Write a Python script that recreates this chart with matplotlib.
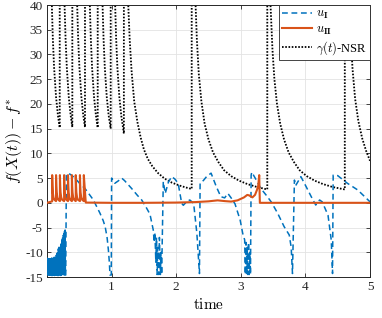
import matplotlib
matplotlib.use("Agg")
import matplotlib.pyplot as plt
import numpy as np

plt.rcParams['font.family'] = ['Liberation Serif', 'DejaVu Serif']
plt.rcParams['mathtext.fontset'] = 'cm'
plt.rcParams['axes.unicode_minus'] = False

# ---- data ----
xticks = [1, 2, 3, 4, 5]
yticks = [-15, -10, -5, 0, 5, 10, 15, 20, 25, 30, 35, 40]

# gamma(t)-NSR (black dotted), jumps repeat the time value
gamma_t = [0.00, 0.075, 0.09, 0.11, 0.14, 0.17, 0.197,
           0.197, 0.272, 0.287, 0.307, 0.337, 0.367, 0.392,
           0.392, 0.467, 0.482, 0.502, 0.532, 0.562, 0.588,
           0.588, 0.663, 0.678, 0.698, 0.728, 0.758, 0.785,
           0.785, 0.860, 0.875, 0.895, 0.925, 0.955, 0.986,
           0.986, 1.055, 1.07, 1.09, 1.12, 1.15, 1.19,
           1.19, 1.258, 1.28, 1.31, 1.35, 1.40, 1.45, 1.50, 1.56, 1.63, 1.72, 1.82, 1.93, 2.05, 2.15, 2.24,
           2.24, 2.30, 2.32, 2.35, 2.39, 2.44, 2.50, 2.57, 2.65, 2.74, 2.85, 2.97, 3.10, 3.25, 3.41,
           3.41, 3.46, 3.49, 3.52, 3.56, 3.61, 3.67, 3.74, 3.82, 3.91, 4.02, 4.14, 4.27, 4.42, 4.61,
           4.61, 4.68, 4.70, 4.73, 4.77, 4.82, 4.88, 4.94, 5.00]
gamma_v = [80, 40, 33.3, 27.3, 21.4, 17.6, 15.2,
           80, 40, 33.3, 27.3, 21.4, 17.6, 15.3,
           80, 40, 33.3, 27.3, 21.4, 17.6, 15.3,
           80, 40, 33.3, 27.3, 21.4, 17.6, 15.2,
           80, 40, 33.3, 27.3, 21.4, 17.6, 15.0,
           80, 40, 33.3, 27.3, 21.4, 17.6, 14.0,
           80, 40, 33.0, 26.5, 20.5, 16.3, 13.2, 10.8, 8.9, 7.4, 6.0, 4.9, 4.1, 3.5, 3.1, 2.8,
           80, 40, 33.0, 26.0, 20.5, 16.0, 12.8, 10.2, 8.3, 6.6, 5.4, 4.5, 3.8, 3.2, 2.7,
           80, 40, 31.0, 25.0, 20.0, 16.0, 12.8, 10.2, 8.3, 6.6, 5.4, 4.5, 3.8, 3.2, 2.7,
           80, 40, 34.0, 27.0, 21.0, 16.5, 13.0, 10.5, 8.5]

# u_II (orange)
u2_t = [0.00, 0.04, 0.08,
        0.08, 0.085, 0.09, 0.10, 0.115, 0.14,
        0.14, 0.145, 0.15, 0.16, 0.175, 0.20,
        0.20, 0.205, 0.21, 0.22, 0.235, 0.265,
        0.265, 0.27, 0.275, 0.285, 0.30, 0.325,
        0.325, 0.33, 0.335, 0.345, 0.36, 0.385,
        0.385, 0.39, 0.395, 0.405, 0.42, 0.445,
        0.445, 0.45, 0.455, 0.465, 0.48, 0.51,
        0.51, 0.515, 0.52, 0.53, 0.545, 0.57,
        0.57, 0.60, 1.00, 1.50, 2.00, 2.30, 2.50, 2.64, 2.75, 2.85, 2.95, 3.05, 3.10,
        3.13, 3.18, 3.22, 3.25, 3.27, 3.285, 3.295, 3.40, 4.00, 5.00]
u2_v = [0.0, 0.15, 0.3,
        5.6, 3.4, 2.1, 1.1, 0.6, 0.35,
        5.6, 3.4, 2.1, 1.1, 0.6, 0.35,
        5.6, 3.4, 2.1, 1.1, 0.6, 0.35,
        5.6, 3.4, 2.1, 1.1, 0.6, 0.35,
        5.6, 3.4, 2.1, 1.1, 0.6, 0.35,
        5.6, 3.4, 2.1, 1.1, 0.6, 0.35,
        5.6, 3.4, 2.1, 1.1, 0.6, 0.35,
        5.6, 3.4, 2.1, 1.1, 0.6, 0.35,
        5.6, 0.05, 0.0, 0.0, 0.05, 0.15, 0.3, 0.5, 0.35, 0.25, 0.5, 1.1, 1.6,
        1.5, 1.1, 1.6, 2.6, 3.5, 5.6, 0.0, 0.0, 0.0, 0.0]

# u_I (blue dashed)
u1_t = [0.000, 0.004, 0.008, 0.012, 0.016, 0.020, 0.024, 0.028, 0.032, 0.036,
        0.040, 0.044, 0.048, 0.052, 0.056, 0.060, 0.064, 0.068, 0.072, 0.076,
        0.080, 0.084, 0.088, 0.092, 0.096, 0.100, 0.104, 0.108, 0.112, 0.116,
        0.120, 0.124, 0.128, 0.132, 0.136, 0.140, 0.144, 0.148, 0.152, 0.156,
        0.160, 0.164, 0.168, 0.172, 0.176, 0.180, 0.184, 0.188, 0.192, 0.196,
        0.200, 0.204, 0.208, 0.212, 0.216, 0.220, 0.224, 0.228, 0.232, 0.236,
        0.240, 0.245, 0.250, 0.255, 0.260, 0.265, 0.270, 0.275, 0.280, 0.285,
        0.290, 0.300, 0.320, 0.340, 0.380, 0.433, 0.500, 0.588, 0.650, 0.717,
        0.770, 0.820, 0.870, 0.900, 0.930, 0.950, 0.965, 0.975, 0.995, 1.000,
        1.050, 1.100, 1.156, 1.200, 1.310, 1.400, 1.466, 1.530, 1.594, 1.645,
        1.660, 1.670, 1.685, 1.695, 1.705, 1.715, 1.730, 1.740, 1.755, 1.765,
        1.775, 1.800, 1.830, 1.880, 1.930, 1.980, 2.030, 2.085, 2.110, 2.160,
        2.210, 2.270, 2.320, 2.360, 2.370, 2.420, 2.470, 2.540, 2.620, 2.690,
        2.750, 2.800, 2.850, 2.910, 2.990, 3.030, 3.060, 3.070, 3.080, 3.090,
        3.100, 3.110, 3.120, 3.130, 3.140, 3.150, 3.160, 3.170, 3.240, 3.310,
        3.390, 3.470, 3.570, 3.670, 3.750, 3.780, 3.800, 3.830, 3.850, 3.930,
        4.010, 4.090, 4.160, 4.220, 4.260, 4.350, 4.400, 4.420, 4.430, 4.500,
        4.650, 4.810, 5.000]
u1_v = [-11.3, -14.7, -11.2, -14.6, -11.4, -14.7, -11.1, -14.6, -11.3, -14.7,
        -11.2, -14.6, -11.4, -14.7, -11.1, -14.6, -11.3, -14.7, -11.2, -14.6,
        -11.0, -14.7, -11.3, -14.6, -11.1, -14.7, -11.2, -14.6, -11.0, -14.7,
        -11.3, -14.6, -10.9, -14.7, -11.0, -14.6, -10.6, -14.7, -10.2, -14.6,
        -10.0, -14.7, -9.6, -14.6, -9.3, -14.7, -9.0, -14.6, -9.2, -14.7,
        -8.8, -14.6, -8.6, -14.7, -8.4, -14.5, -8.0, -14.6, -7.5, -14.5,
        -7.0, -14.4, -6.6, -14.5, -6.2, -14.6, -5.8, -14.5, -5.5, -14.6,
        -14.6, 5.6, 6.0, 5.9, 5.6, 5.0, 4.0, 2.9, 1.8, 0.6,
        -0.8, -2.1, -3.6, -4.8, -7.0, -9.5, -12.0, -14.6, -14.6, 5.0,
        3.95, 4.4, 5.0, 4.5, 2.9, 1.5, 0.57, -0.8, -2.3, -5.5,
        -8.0, -6.0, -12.0, -7.0, -14.5, -9.0, -14.5, -7.0, -14.5, -10.0,
        -14.5, 4.3, 1.9, 4.2, 5.3, 4.8, 3.95, -0.1, -0.5, 0.2,
        0.57, -0.1, -6.2, -14.3, 4.0, 4.5, 5.3, 6.0, 3.3, 1.25,
        1.0, 1.9, 1.0, -0.2, -3.5, -6.2, -7.5, -14.5, -8.0, -14.5,
        -9.0, -14.5, -8.0, -14.5, -10.0, -14.5, 5.6, 6.2, 4.6, 2.9,
        1.6, 0.2, -2.1, -4.8, -6.5, -9.0, -14.3, 4.6, 3.5, 5.3,
        3.3, 1.25, -0.45, 0.57, 0.2, -2.5, -7.5, -14.3, 5.6, 5.5,
        3.95, 2.6, 0.2]

BLUE = '#0072BD'
ORANGE = '#D95319'

fig = plt.figure(figsize=(3.82, 3.18), dpi=100)
ax = fig.add_axes([47/382, 1-277/318, (370-47)/382, (277-5)/318])

ax.plot(u1_t, u1_v, linestyle=(0, (3.8, 2.4)), color=BLUE, lw=1.1, label=r'$u_{\mathbf{I}}$', zorder=3)
ax.plot(u2_t, u2_v, '-', color=ORANGE, lw=1.5, label=r'$u_{\mathbf{II}}$', zorder=4)
ax.plot(gamma_t, gamma_v, linestyle=(0, (0.9, 0.9)), color='black', lw=1.3,
        label=r'$\gamma(t)$-NSR', zorder=2)

ax.set_xlim(0, 5)
ax.set_ylim(-15, 40)
ax.set_xticks(xticks)
ax.set_yticks(yticks)
ax.set_xticklabels([str(v) for v in xticks])
ax.set_yticklabels([str(v) for v in yticks])
ax.grid(True, color='#e3e3e3', lw=0.6, zorder=0)
ax.set_axisbelow(True)
ax.tick_params(direction='in', length=3, width=0.6, labelsize=9.5, colors='#262626',
               top=True, right=True, pad=3)
for s in ax.spines.values():
    s.set_color('#262626')
    s.set_linewidth(0.7)

ax.set_xlabel(r'$\mathrm{time}$', fontsize=11, labelpad=3)
ax.set_ylabel(r'$f(X(t))-f^{*}$', fontsize=11.5, labelpad=1)

leg = ax.legend(loc='upper right', fontsize=9, handlelength=2.4, handletextpad=0.3,
                borderpad=0.25, labelspacing=0.2, borderaxespad=0.0, fancybox=False,
                framealpha=1.0, edgecolor='#262626')
leg.get_frame().set_linewidth(0.6)

fig.savefig('out.png', dpi=100)
